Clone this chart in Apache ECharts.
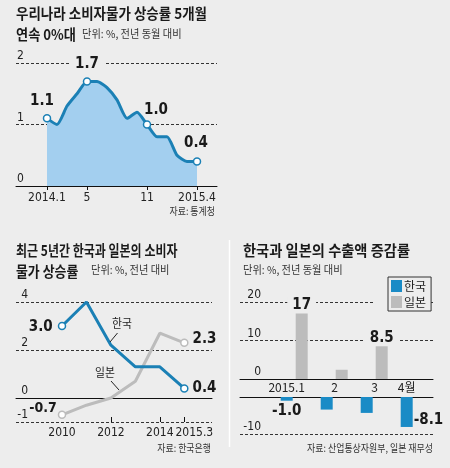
<!DOCTYPE html>
<html><head><meta charset="utf-8">
<script src="https://cdn.jsdelivr.net/npm/echarts@6/dist/echarts.min.js"></script>
<style>html,body{margin:0;padding:0;background:#ededed}#c{width:450px;height:468px}</style>
</head><body><div id="c"></div>
<script>
// ---- Data: top chart (monthly CPI, %)
const cpiMonths = ['2014.1','2014.2','2014.3','2014.4','2014.5','2014.6','2014.7','2014.8','2014.9','2014.10','2014.11','2014.12','2015.1','2015.2','2015.3','2015.4'];
const cpiValues = [1.1, 1.0, 1.3, 1.5, 1.7, 1.7, 1.6, 1.4, 1.1, 1.2, 1.0, 0.8, 0.8, 0.5, 0.4, 0.4];
const cpiTickLabels = {'2014.1':'2014.1','2014.5':'5','2014.11':'11','2015.4':'2015.4'};
const cpiYTicks = [0, 1, 2];

// ---- Data: bottom-left (annual CPI, Korea vs Japan, %)
const years = ['2010','2011','2012','2013','2014','2015.3'];
const koreaCpi = [3.0, 4.0, 2.2, 1.3, 1.3, 0.4];
const japanCpi = [-0.7, -0.3, 0.0, 0.7, 2.7, 2.3];
const yearTickLabels = ['2010','2012','2014','2015.3'];
const cpiYTicks2 = [-1, 0, 2, 4];

// ---- Data: bottom-right (export growth, %)
const exportMonths = ['2015.1','2','3','4월'];
const koreaExports = [-1.0, -3.4, -4.3, -8.1];
const japanExports = [17, 2.4, 8.5, null];

const BG = '#ededed', BLUE = '#1b80b5', AREA = '#a3cfef', GRAY = '#bcbcbc', KBAR = '#1a8bc6', INK = '#1a1a1a';
const NUM = '"Liberation Sans Narrow","DejaVu Sans Condensed","Roboto Condensed",Roboto,"Noto Sans CJK KR",sans-serif';
const KR = '"Noto Sans CJK KR",sans-serif';
const DASH = {color: '#333', width: 1, type: [3, 2]};

// label placement (style only)
const topLabelPos = {
  '2014.1': {position: 'top', offset: [-5, 0]},
  '2014.5': {position: 'top', offset: [0, 0], backgroundColor: BG, padding: [1, 6]},
  '2014.11': {position: 'top', offset: [9, 2]},
  '2015.4': {position: 'top', offset: [-1, -2]}
};
const numLabel = {fontFamily: NUM, fontWeight: 'bold', fontSize: 15, color: INK, formatter: p => Number(p.value).toFixed(1)};

const topData = cpiValues.map((v, i) => {
  const m = cpiMonths[i];
  if (topLabelPos[m]) {
    return {value: v, symbol: 'circle', label: Object.assign({show: true}, numLabel, topLabelPos[m])};
  }
  return {value: v, symbol: 'none'};
});

function endLabels(arr, firstPos, lastPos) {
  return arr.map((v, i) => {
    if (i === 0) return {value: v, symbol: 'circle', label: Object.assign({show: true}, numLabel, firstPos)};
    if (i === arr.length - 1) return {value: v, symbol: 'circle', label: Object.assign({show: true}, numLabel, lastPos)};
    return {value: v, symbol: 'none'};
  });
}

function yInside(margin, align, fmt) {
  return {inside: true, margin: margin, align: align, verticalAlign: 'bottom', padding: [0, 0, 1, 0],
    fontFamily: NUM, fontSize: 12, color: '#222', formatter: fmt};
}
function bgX(extra) {
  return Object.assign({type: 'value', min: 0, max: 1, axisLabel: {show: false}, axisTick: {show: false}, splitLine: {show: false},
    axisLine: {show: true, onZero: false, lineStyle: {color: '#111', width: 1}}}, extra || {});
}

function gtext(text, x, y, opt) {
  opt = opt || {};
  return {type: 'text', x: x, y: y, scaleX: opt.sx || 1, z: 10,
    style: {text: text, font: opt.font, fill: opt.fill || INK,
      textAlign: opt.align || 'left', textVerticalAlign: 'middle', align: opt.align || 'left', verticalAlign: 'middle'}};
}
const TF = 'bold 15px ' + KR, UF = '11px ' + KR, SF = '10.5px ' + KR;

const option = {
  backgroundColor: BG,
  animation: false,
  grid: [
    {left: 16, top: 63, width: 201, height: 123},   // 0 top bg
    {left: 47, top: 63, width: 150, height: 123},   // 1 top data
    {left: 16, top: 302, width: 196, height: 120},  // 2 BL bg
    {left: 62, top: 302, width: 122.3, height: 120},// 3 BL data
    {left: 240, top: 302, width: 193, height: 77},  // 4 BR pos bg
    {left: 240, top: 397, width: 193, height: 37},  // 5 BR neg bg
    {left: 281.7, top: 302, width: 160, height: 77},// 6 BR Japan
    {left: 266.7, top: 397, width: 160, height: 37} // 7 BR Korea
  ],
  xAxis: [
    bgX({gridIndex: 0}),
    {gridIndex: 1, type: 'category', data: cpiMonths, boundaryGap: false,
      axisLine: {show: false},
      axisTick: {show: true, length: 4, interval: (i, v) => !!cpiTickLabels[v], lineStyle: {color: '#111'}},
      axisLabel: {interval: (i, v) => !!cpiTickLabels[v], formatter: v => cpiTickLabels[v] || '', margin: 6,
        fontFamily: NUM, fontSize: 12, color: '#222'}},
    bgX({gridIndex: 2, axisLine: {show: true, onZero: true, lineStyle: {color: '#111', width: 1}}}),
    {gridIndex: 3, type: 'category', data: years, boundaryGap: false,
      axisLine: {show: false, onZero: false},
      axisTick: {show: true, inside: true, length: 5, interval: (i, v) => yearTickLabels.includes(v) && i > 0, lineStyle: {color: '#111'}},
      axisLabel: {interval: (i, v) => yearTickLabels.includes(v), margin: 5, fontFamily: NUM, fontSize: 12, color: '#222',
        hideOverlap: false,
        formatter: (v, i) => i === years.length - 1 ? '{r|' + v + '}' : v,
        rich: {r: {padding: [0, 0, 0, 20], fontFamily: NUM, fontSize: 12, color: '#222'}}}},
    bgX({gridIndex: 4}),
    bgX({gridIndex: 5, position: 'top'}),
    {gridIndex: 6, type: 'category', data: exportMonths, show: false},
    {gridIndex: 7, type: 'category', data: exportMonths, position: 'top',
      axisLine: {show: false}, axisTick: {show: false},
      axisLabel: {interval: 0, hideOverlap: false, margin: 4, fontFamily: KR, fontSize: 12, color: '#222',
        formatter: (v, i) => (i === 1 || i === 2) ? '{s|' + v + '}' : v,
        rich: {s: {padding: [0, 0, 0, 16], fontFamily: KR, fontSize: 12, color: '#222'}}}}
  ],
  yAxis: [
    {gridIndex: 0, type: 'value', min: 0, max: 2, interval: 1, axisLine: {show: false}, axisTick: {show: false},
      splitLine: {show: true, lineStyle: Object.assign({}, DASH, {color: ['transparent', '#333', '#333']})},
      axisLabel: yInside(1, 'left', v => cpiYTicks.includes(v) ? String(v) : '')},
    {gridIndex: 1, type: 'value', min: 0, max: 2, show: false},
    {gridIndex: 2, type: 'value', min: -1, max: 4, interval: 1, axisLine: {show: false}, axisTick: {show: false},
      splitLine: {show: true, lineStyle: Object.assign({}, DASH, {color: ['#333', 'transparent', 'transparent', '#333', 'transparent', '#333']})},
      axisLabel: yInside(12, 'right', v => cpiYTicks2.includes(v) ? String(v) : '')},
    {gridIndex: 3, type: 'value', min: -1, max: 4, show: false},
    {gridIndex: 4, type: 'value', min: 0, max: 20, interval: 10, axisLine: {show: false}, axisTick: {show: false},
      splitLine: {show: true, lineStyle: Object.assign({}, DASH, {color: ['transparent', '#333', '#333']})},
      axisLabel: yInside(21, 'right', v => String(v))},
    {gridIndex: 5, type: 'value', min: -10, max: 0, interval: 10, axisLine: {show: false}, axisTick: {show: false},
      splitLine: {show: true, lineStyle: Object.assign({}, DASH, {color: ['#333', 'transparent']})},
      axisLabel: yInside(21, 'right', v => v === 0 ? '' : String(v))},
    {gridIndex: 6, type: 'value', min: 0, max: 20, show: false},
    {gridIndex: 7, type: 'value', min: -10, max: 0, show: false}
  ],
  legend: {
    data: ['한국', '일본'], orient: 'vertical', left: 388, top: 277,
    padding: [3, 5, 3, 3], itemWidth: 11, itemHeight: 12, itemGap: 4, icon: 'rect',
    backgroundColor: BG, borderColor: '#333', borderWidth: 1, borderRadius: 0,
    textStyle: {fontFamily: KR, fontSize: 12, color: '#222', padding: [0, 0, 0, -3]}
  },
  series: [
    {type: 'line', xAxisIndex: 1, yAxisIndex: 1, data: topData, smooth: 0.2,
      symbolSize: 7, lineStyle: {color: BLUE, width: 3}, areaStyle: {color: AREA, opacity: 1},
      itemStyle: {color: '#fff', borderColor: BLUE, borderWidth: 1.5}, z: 3},
    {name: '한국 물가', type: 'line', xAxisIndex: 3, yAxisIndex: 3,
      data: endLabels(koreaCpi, {position: 'left', distance: 5, offset: [0, 1]}, {position: 'right', distance: 4}),
      symbolSize: 7, lineStyle: {color: BLUE, width: 3}, itemStyle: {color: '#fff', borderColor: BLUE, borderWidth: 1.5}, z: 4},
    {name: '일본 물가', type: 'line', xAxisIndex: 3, yAxisIndex: 3,
      data: endLabels(japanCpi, {position: 'left', distance: 4, offset: [3, -6], fontSize: 14}, {position: 'right', distance: 4, offset: [0, -4]}),
      symbolSize: 7, lineStyle: {color: GRAY, width: 3}, itemStyle: {color: '#fff', borderColor: GRAY, borderWidth: 1.5}, z: 3},
    {name: '일본', type: 'bar', xAxisIndex: 6, yAxisIndex: 6, data: japanExports, barWidth: 12,
      itemStyle: {color: GRAY},
      label: {show: true, position: 'top', distance: 1, fontFamily: NUM, fontWeight: 'bold', fontSize: 15, color: INK,
        backgroundColor: BG, padding: [1, 5, 0, 5],
        formatter: p => (p.value >= 5 ? String(p.value) : '')}},
    {name: '한국', type: 'bar', xAxisIndex: 7, yAxisIndex: 7,
      data: koreaExports.map((v, i) => (i === 0 ? {value: v, label: {show: true, position: 'bottom', distance: 3}}
        : i === koreaExports.length - 1 ? {value: v, label: {show: true, position: 'right', distance: 1, offset: [0, 8]}}
        : {value: v})),
      barWidth: 12, itemStyle: {color: KBAR},
      label: {show: false, fontFamily: NUM, fontWeight: 'bold', fontSize: 15, color: INK, formatter: p => p.value.toFixed(1)}}
  ],
  graphic: [
    gtext('우리나라 소비자물가 상승률 5개월', 16, 13, {font: TF, sx: 0.90}),
    gtext('연속 0%대', 16, 34, {font: TF, sx: 0.88}),
    gtext('단위: %, 전년 동월 대비', 82, 34, {font: UF, sx: 0.93, fill: '#333'}),
    gtext('자료: 통계청', 215, 211, {font: SF, sx: 0.85, align: 'right', fill: '#333'}),
    gtext('최근 5년간 한국과 일본의 소비자', 16, 250, {font: TF, sx: 0.80}),
    gtext('물가 상승률', 16, 271, {font: TF, sx: 0.86}),
    gtext('단위: %, 전년 대비', 91, 270, {font: UF, sx: 0.93, fill: '#333'}),
    gtext('한국과 일본의 수출액 증감률', 243, 250, {font: TF, sx: 0.95}),
    gtext('단위: %, 전년 동월 대비', 243, 270, {font: UF, sx: 0.93, fill: '#333'}),
    gtext('자료: 한국은행', 211, 448, {font: SF, sx: 0.85, align: 'right', fill: '#333'}),
    gtext('자료: 산업통상자원부, 일본 재무성', 433, 448, {font: SF, sx: 0.85, align: 'right', fill: '#333'}),
    gtext('한국', 112, 323, {font: '12px ' + KR, sx: 0.9, fill: '#222'}),
    gtext('일본', 95, 372, {font: '12px ' + KR, sx: 0.9, fill: '#222'}),
    {type: 'line', z: 10, shape: {x1: 117.5, y1: 333, x2: 110, y2: 342}, style: {stroke: '#222', lineWidth: 1}},
    {type: 'line', z: 10, shape: {x1: 111, y1: 381, x2: 119, y2: 390}, style: {stroke: '#222', lineWidth: 1}},
    {type: 'line', z: 10, shape: {x1: 229.5, y1: 240, x2: 229.5, y2: 447}, style: {stroke: '#ffffff', lineWidth: 1.5}},
    {type: 'rect', z: 1, shape: {x: 373, y: 298, width: 15, height: 8}, style: {fill: BG}}
  ]
};

const chart = echarts.init(document.getElementById('c'), null, {renderer: 'canvas'});
chart.setOption(option);
</script>
</body></html>
